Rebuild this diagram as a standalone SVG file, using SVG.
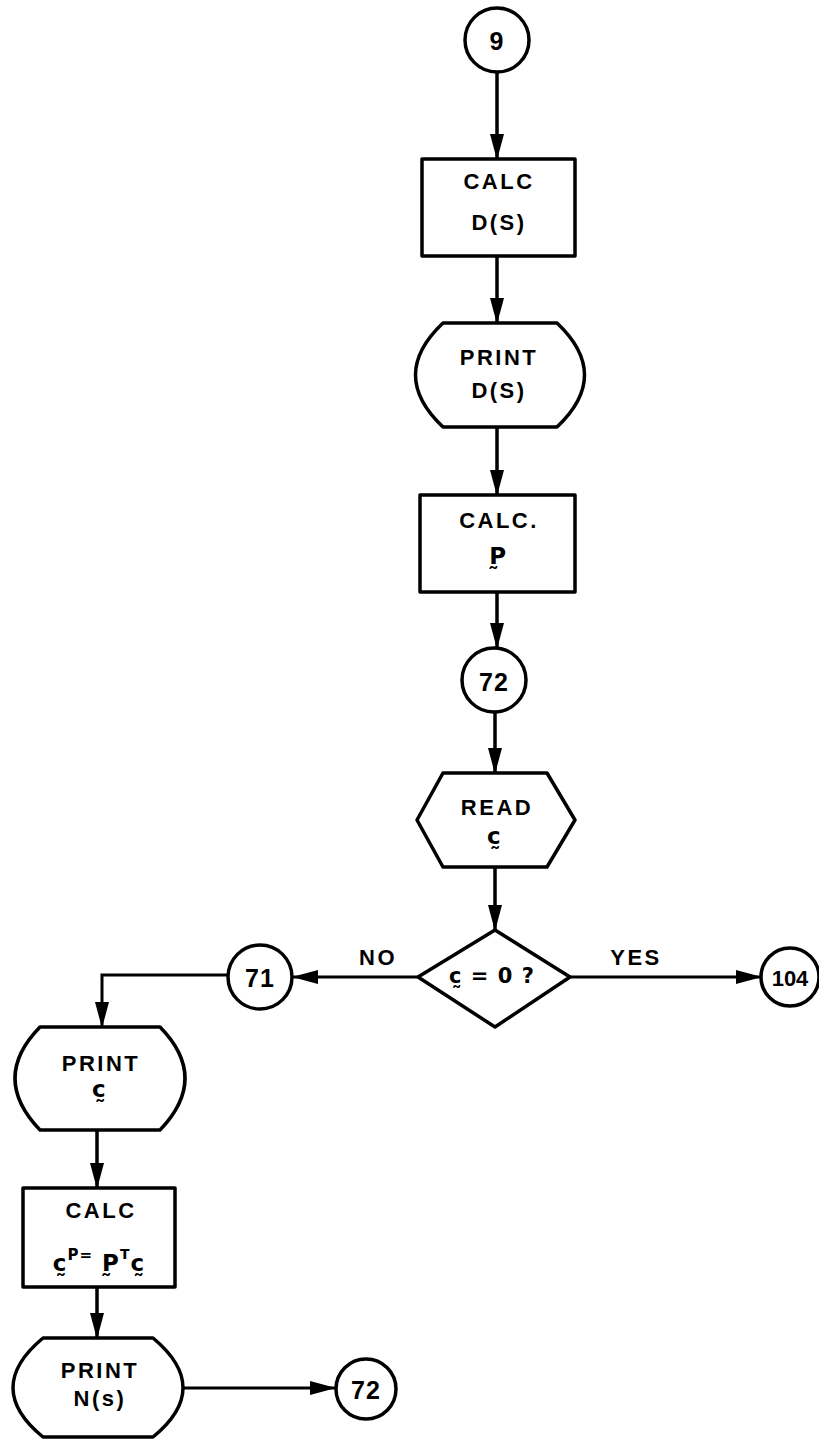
<svg xmlns="http://www.w3.org/2000/svg" width="819" height="1440" viewBox="0 0 819 1440">
<style>
.shape{fill:#fff;stroke:#000;stroke-width:3.5;stroke-linejoin:round}
.conn{fill:none;stroke:#000;stroke-width:3.5}
.thin{fill:none;stroke:#000;stroke-width:3}
text{font-family:"Liberation Sans","DejaVu Sans",sans-serif;font-weight:bold;font-size:22px;fill:#000;text-anchor:middle;dominant-baseline:central;letter-spacing:2.5px}
.num{letter-spacing:1px;font-size:25px}
.vec{font-family:"DejaVu Sans",sans-serif;font-size:23px}
</style>
<defs>
<marker id="arr" viewBox="0 0 26 14" markerWidth="26" markerHeight="14" refX="25" refY="7" orient="auto" markerUnits="userSpaceOnUse">
<path d="M0,0 L26,7 L0,14 z" fill="#000"/>
</marker>
</defs>
<g id="connectors">
<line class="conn" x1="497" y1="72" x2="497" y2="159" marker-end="url(#arr)"/>
<line class="conn" x1="497" y1="256" x2="497" y2="323" marker-end="url(#arr)"/>
<line class="conn" x1="497" y1="427" x2="497" y2="495" marker-end="url(#arr)"/>
<line class="conn" x1="497" y1="592" x2="497" y2="648" marker-end="url(#arr)"/>
<line class="conn" x1="495" y1="712" x2="495" y2="773" marker-end="url(#arr)"/>
<line class="conn" x1="495" y1="867" x2="495" y2="930" marker-end="url(#arr)"/>
<line class="thin" x1="418" y1="977" x2="293" y2="977" marker-end="url(#arr)"/>
<line class="thin" x1="570" y1="977" x2="761" y2="977" marker-end="url(#arr)"/>
<path class="thin" d="M228,975 H102 V1027" marker-end="url(#arr)"/>
<line class="conn" x1="97" y1="1130" x2="97" y2="1188" marker-end="url(#arr)"/>
<line class="conn" x1="97" y1="1287" x2="97" y2="1338" marker-end="url(#arr)"/>
<line class="thin" x1="183" y1="1388" x2="335" y2="1388" marker-end="url(#arr)"/>
<text x="378" y="957">NO</text>
<text x="636" y="957">YES</text>
</g>
<g id="n9">
<circle class="shape" cx="497" cy="40" r="32"/>
<text class="num" x="497" y="41">9</text>
</g>
<g id="calcDS">
<rect class="shape" x="422" y="159" width="153" height="97"/>
<text x="499" y="181">CALC</text>
<text x="499" y="222">D(S)</text>
</g>
<g id="printDS">
<path class="shape" d="M443,323 H557 Q612,375 557,427 H443 Q388,375 443,323 Z"/>
<text x="499" y="357">PRINT</text>
<text x="499" y="390">D(S)</text>
</g>
<g id="calcP">
<rect class="shape" x="420" y="495" width="155" height="97"/>
<text x="499" y="520">CALC.</text>
<text class="vec" x="499" y="556">P̰</text>
</g>
<g id="n72a">
<circle class="shape" cx="494" cy="680" r="32"/>
<text class="num" x="494" y="682">72</text>
</g>
<g id="readC">
<path class="shape" d="M443,773 H547 L575,820 L547,867 H443 L417,820 Z"/>
<text x="497" y="807">READ</text>
<text class="vec" x="495" y="836">c̰</text>
</g>
<g id="decision">
<path class="shape" d="M495,930 L570,977 L495,1027 L418,977 Z"/>
<text class="vec" x="492" y="976" style="letter-spacing:1px;font-size:21px">c̰ = 0 ?</text>
</g>
<g id="n71">
<circle class="shape" cx="260" cy="977" r="32"/>
<text class="num" x="260" y="978">71</text>
</g>
<g id="n104">
<circle class="shape" cx="790" cy="977" r="29"/>
<text class="num" x="790" y="978" style="font-size:22px;letter-spacing:0">104</text>
</g>
<g id="printC">
<path class="shape" d="M40,1027 H160 Q210,1078 160,1130 H40 Q-10,1078 40,1027 Z"/>
<text x="101" y="1063">PRINT</text>
<text class="vec" x="100" y="1089">c̰</text>
</g>
<g id="calcCP">
<rect class="shape" x="23" y="1188" width="152" height="99"/>
<text x="101" y="1210">CALC</text>
<text class="vec" x="99" y="1263" style="letter-spacing:1px">c̰<tspan font-size="15" dy="-8">P</tspan><tspan font-size="15">=</tspan><tspan dy="8"> P̰</tspan><tspan font-size="14" dy="-9">T</tspan><tspan dy="9">c̰</tspan></text>
</g>
<g id="printNs">
<path class="shape" d="M43,1338 H153 Q213,1388 153,1437 H43 Q-17,1388 43,1338 Z"/>
<text x="100" y="1370">PRINT</text>
<text x="100" y="1398">N(s)</text>
</g>
<g id="n72b">
<circle class="shape" cx="366" cy="1389" r="30"/>
<text class="num" x="366" y="1390">72</text>
</g>
</svg>
